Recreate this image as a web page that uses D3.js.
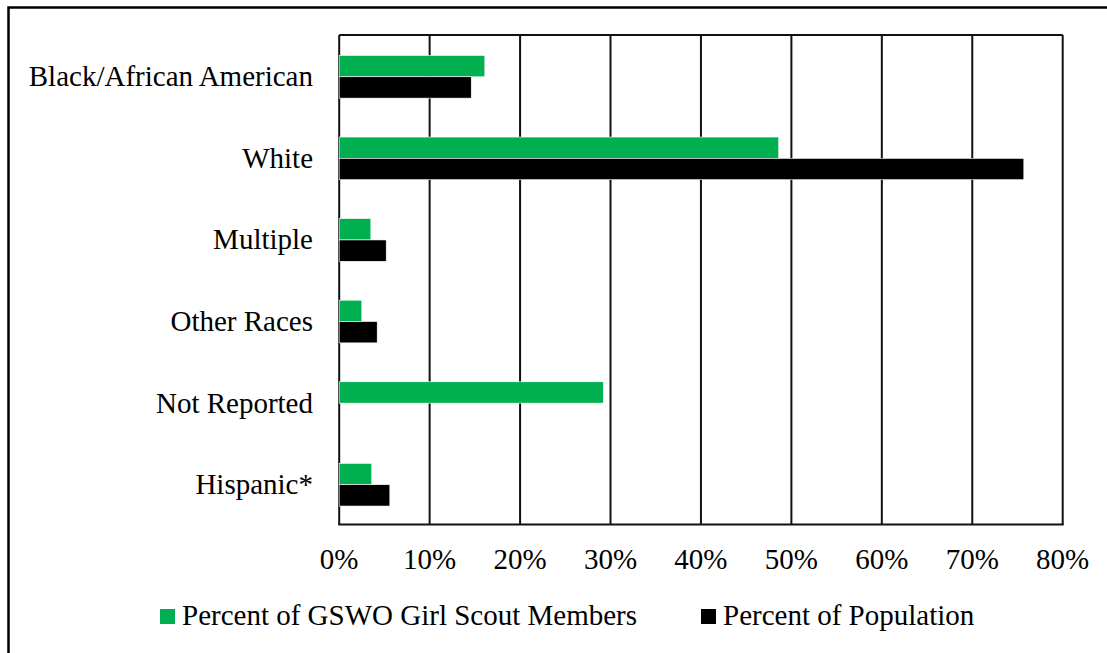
<!DOCTYPE html>
<html>
<head>
<meta charset="utf-8">
<script src="https://cdn.jsdelivr.net/npm/d3@7"></script>
<style>
  html, body { margin: 0; padding: 0; background: #fff; }
  svg { display: block; }
  text { font-family: "Liberation Serif", "Times New Roman", serif; fill: #000; }
</style>
</head>
<body>
<svg id="chart" width="1107" height="653"></svg>
<script>
const categories = ["Black/African American", "White", "Multiple", "Other Races", "Not Reported", "Hispanic*"];
const seriesNames = ["Percent of GSWO Girl Scout Members", "Percent of Population"];
const gswoValues = [16.1, 48.6, 3.5, 2.5, 29.2, 3.6];
const populationValues = [14.6, 75.7, 5.2, 4.2, null, 5.6];
const tickValues = [0, 10, 20, 30, 40, 50, 60, 70, 80];
const colors = ["#00b050", "#000000"];

const svg = d3.select("#chart");
const W = 1107, H = 653;
const m = { left: 339.2, right: 1062.7, top: 35, bottom: 524.5 };

// outer border
svg.append("rect").attr("x", 8.5).attr("y", 7.5).attr("width", W + 20).attr("height", H + 20)
  .attr("fill", "none").attr("stroke", "#000").attr("stroke-width", 2.5);

const x = d3.scaleLinear().domain([0, 80]).range([m.left, m.right]);
const y0 = d3.scaleBand().domain(categories).range([m.top, m.bottom])
  .paddingInner(0.477).paddingOuter(0.2385);
const y1 = d3.scaleBand().domain([0, 1]).range([0, y0.bandwidth()]);

// gridlines
svg.append("g").selectAll("line").data(tickValues).join("line")
  .attr("x1", d => x(d)).attr("x2", d => x(d))
  .attr("y1", m.top).attr("y2", m.bottom)
  .attr("stroke", "#111").attr("stroke-width", 2);

// top border
svg.append("line").attr("x1", m.left).attr("x2", m.right).attr("y1", m.top).attr("y2", m.top)
  .attr("stroke", "#111").attr("stroke-width", 2);

// bars
const data = categories.map((c, i) => ({ c, vals: [gswoValues[i], populationValues[i]] }));
const groups = svg.append("g").selectAll("g").data(data).join("g")
  .attr("transform", d => `translate(0,${y0(d.c) + 1})`);
groups.selectAll("rect").data(d => d.vals.map((v, k) => ({ v, k })).filter(e => e.v != null)).join("rect")
  .attr("x", x(0))
  .attr("y", d => y1(d.k))
  .attr("width", d => x(d.v) - x(0))
  .attr("height", y1.bandwidth())
  .attr("fill", d => colors[d.k])
  .attr("stroke", "#fff").attr("stroke-width", 0.6);

// bottom axis line
svg.append("line").attr("x1", m.left - 1).attr("x2", m.right + 1).attr("y1", m.bottom).attr("y2", m.bottom)
  .attr("stroke", "#111").attr("stroke-width", 2);

// x tick labels
svg.append("g").selectAll("text").data(tickValues).join("text")
  .attr("x", d => x(d)).attr("y", 569)
  .attr("text-anchor", "middle").attr("font-size", 29)
  .text(d => d + "%");

// y category labels
svg.append("g").selectAll("text").data(categories).join("text")
  .attr("x", 313).attr("y", d => y0(d) + y0.bandwidth() / 2 + 10.5)
  .attr("text-anchor", "end").attr("font-size", 29)
  .text(d => d);

// legend
const legendX = [160, 701];
const leg = svg.append("g").selectAll("g").data(seriesNames).join("g")
  .attr("transform", (d, i) => `translate(${legendX[i]},0)`);
leg.append("rect").attr("x", 0).attr("y", 609).attr("width", 15).attr("height", 15)
  .attr("fill", (d, i) => colors[i]);
leg.append("text").attr("x", 22).attr("y", 625).attr("font-size", 29).text(d => d);
</script>
</body>
</html>
